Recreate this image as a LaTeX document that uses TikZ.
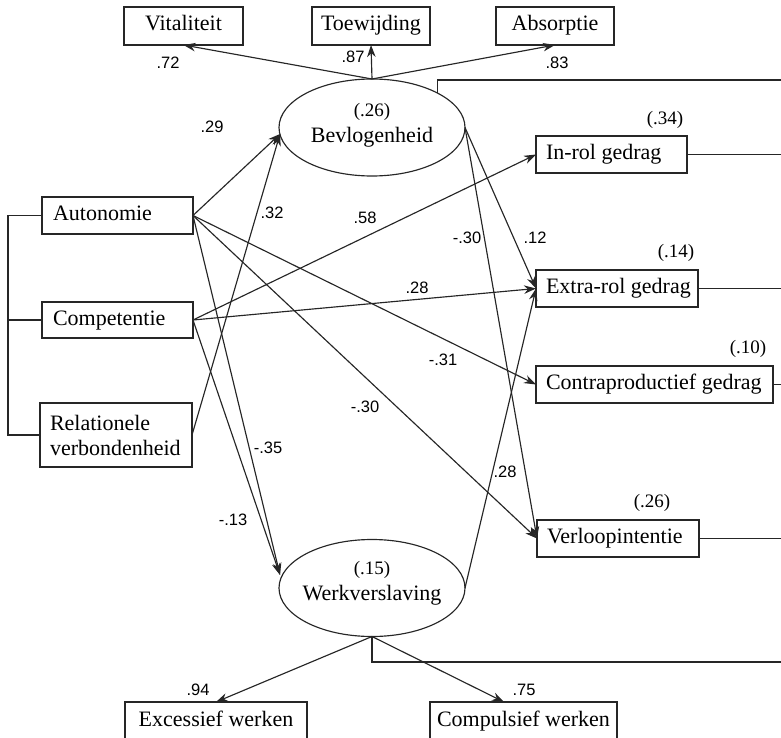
\documentclass[tikz,border=0pt]{standalone}
\usepackage{fontspec}
\setmainfont{Liberation Serif}
\newfontfamily\labfont{Liberation Sans}
\usetikzlibrary{arrows.meta,calc,shapes.geometric}
\begin{document}
\begin{tikzpicture}[x=1pt,y=-1pt,
  every node/.style={inner sep=0pt, outer sep=0pt},
  ln/.style={line width=1.15pt, draw=black!85},
  arr/.style={ln, -{Stealth[length=12pt,width=8.5pt]}},
  rect/.style={draw=black!85, line width=1.15pt, rectangle},
  box/.style={rect, font=\fontsize{22}{25}\selectfont, text height=15pt, text depth=5pt},
  ell/.style={draw=black!85, line width=1.15pt, ellipse, minimum width=186pt, minimum height=97pt},
  ser/.style={font=\fontsize{22}{25}\selectfont},
  btxt/.style={ser, anchor=west, text height=15pt, text depth=5pt},
  rsq/.style={font=\fontsize{19}{22}\selectfont},
  lab/.style={font=\labfont\fontsize{16.5}{19}\selectfont}
]
\useasboundingbox (0,0) rectangle (781,738);

% top indicators
\node[box, minimum width=119pt, minimum height=38pt] (vit) at (183.5,26) {Vitaliteit};
\node[box, minimum width=118pt, minimum height=38pt] (toe) at (371,26) {Toewijding};
\node[box, minimum width=118pt, minimum height=38pt] (abs) at (555,26) {Absorptie};

% latent variables
\node[ell] (bev) at (372,127.5) {};
\node[rsq] (bevr) at (372,112) {(.26)};
\node[ser] (bevt) at (372,137) {Bevlogenheid};
\node[ell] (werk) at (372,588) {};
\node[rsq] (werkr) at (372,570) {(.15)};
\node[ser] (werkt) at (372,595) {Werkverslaving};

% left predictors
\node[rect, minimum width=151pt, minimum height=37pt] (aut) at (117.5,215.5) {};
\node[btxt] (autt) at ($(aut.west)+(11,0)$) {Autonomie};
\node[rect, minimum width=151pt, minimum height=36pt] (comp) at (117.5,320) {};
\node[btxt] (compt) at ($(comp.west)+(11,0)$) {Competentie};
\node[rect, minimum width=152pt, minimum height=64pt] (rel) at (116,435) {};
\node[ser, anchor=west, align=left] (relt) at ($(rel.west)+(10,0)$) {Relationele\\verbondenheid};

% right outcomes
\node[rect, minimum width=151pt, minimum height=37pt] (inrol) at (611.5,154.5) {};
\node[btxt] (inrolt) at ($(inrol.west)+(10,0)$) {In-rol gedrag};
\node[rect, minimum width=162pt, minimum height=37pt] (extra) at (617,288.5) {};
\node[btxt] (extrat) at ($(extra.west)+(10,0)$) {Extra-rol gedrag};
\node[rect, minimum width=237pt, minimum height=37pt] (contra) at (654.5,384.5) {};
\node[btxt] (contrat) at ($(contra.west)+(10,0)$) {Contraproductief gedrag};
\node[rect, minimum width=162pt, minimum height=37pt] (verl) at (618,538.5) {};
\node[btxt] (verlt) at ($(verl.west)+(10,0)$) {Verloopintentie};

% bottom indicators
\node[box, minimum width=182pt, minimum height=38pt] (exc) at (216,721) {Excessief werken};
\node[box, minimum width=187pt, minimum height=38pt] (compw) at (523.5,721) {Compulsief werken};

% R-squared labels
\node[rsq] (r34) at (665,120) {(.34)};
\node[rsq] (r14) at (676,253) {(.14)};
\node[rsq] (r10) at (748,349) {(.10)};
\node[rsq] (r26) at (652,503) {(.26)};

% coordinates
\coordinate (tr) at (781,80);
\coordinate (br) at (781,662);
\coordinate (bevin) at (280,134);
\coordinate (werkin) at (280,575);
\coordinate (cwin) at (504,702);
\coordinate (bx) at (8,320);

% measurement arrows
\draw[arr] (bev.north) -- (vit.south);
\draw[arr] (bev.north) -- (toe.south);
\draw[arr] (bev.north) -- (abs.south);
\draw[arr] (werk.south) -- (exc.north);
\draw[arr] (werk.south) -- (cwin);

% structural arrows
\draw[arr] (aut.east) -- (bevin);
\draw[arr] (rel.east) -- (bevin);
\draw[arr] (comp.east) -- (inrol.west);
\draw[arr] (comp.east) -- (extra.west);
\draw[arr] (aut.east) -- (contra.west);
\draw[arr] (aut.east) -- (verl.west);
\draw[arr] (aut.east) -- (werkin);
\draw[arr] (comp.east) -- (werkin);
\draw[arr] (bev.east) -- (extra.west);
\draw[arr] (bev.east) -- (verl.west);
\draw[arr] (werk.east) -- (extra.west);

% correlations bracket
\draw[ln] (aut.west) -| (bx) |- (rel.west);
\draw[ln] (comp.west) -- (bx);

% residual correlation lines to the right
\draw[ln] (bev.north east) |- (tr);
\draw[ln] (werk.south) |- (br);
\draw[ln] (inrol.east) -- (inrol.east -| tr);
\draw[ln] (extra.east) -- (extra.east -| tr);
\draw[ln] (contra.east) -- (contra.east -| tr);
\draw[ln] (verl.east) -- (verl.east -| tr);

% path labels
\node[lab] (l72) at (168,63) {.72};
\node[lab] (l87) at (353,57) {.87};
\node[lab] (l83) at (557,63) {.83};
\node[lab] (l29) at (212,127) {.29};
\node[lab] (l32) at (272,213) {.32};
\node[lab] (l58) at (365,218) {.58};
\node[lab] (l30a) at (467,238) {-.30};
\node[lab] (l12) at (535,238) {.12};
\node[lab] (l28a) at (417,288) {.28};
\node[lab] (l31) at (443,360) {-.31};
\node[lab] (l30b) at (365,407) {-.30};
\node[lab] (l35) at (268,448) {-.35};
\node[lab] (l28b) at (505,472) {.28};
\node[lab] (l13) at (233,520) {-.13};
\node[lab] (l94) at (198,690) {.94};
\node[lab] (l75) at (524,690) {.75};
\end{tikzpicture}
\end{document}
